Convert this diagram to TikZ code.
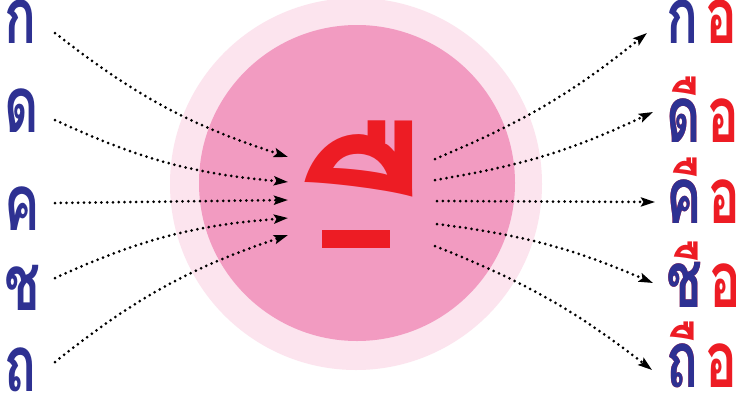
\documentclass[tikz,border=0pt]{standalone}
\usepackage{fontspec}
\usetikzlibrary{arrows.meta}
\newfontfamily\thaifont[Script=Thai,FakeStretch=0.68]{Loma}
\newfontfamily\thaivowel[Script=Thai,FakeStretch=0.76]{Loma}
\definecolor{blueT}{HTML}{2E3192}
\definecolor{redT}{HTML}{ED1C24}
\definecolor{pinkIn}{HTML}{F29BC1}
\definecolor{pinkOut}{HTML}{FCE4EE}
\tikzset{
  cons/.style={inner sep=0pt, anchor=base west, text=blueT, font=\thaifont\bfseries\fontsize{78}{78}\selectfont},
  word/.style={inner sep=0pt, anchor=base west, font=\thaifont\bfseries\fontsize{78}{78}\selectfont},
  dots/.style={line width=3pt, dash pattern=on 0pt off 5.8pt, line cap=round,
    -{Stealth[length=14pt,width=9pt,inset=2.5pt]}}
}
\newcommand{\twotone}[2]{\rlap{\color{redT}#1#2}{\color{blueT}#1}\hspace{7pt}{\color{redT}อ}}
\begin{document}
\begin{tikzpicture}[x=1pt,y=-1pt]
\useasboundingbox (0,0) rectangle (736,400);
\fill[white] (0,0) rectangle (736,400);
% circles
\fill[pinkOut] (356,184) circle (186);
\fill[pinkIn] (357,183) circle (158);
% centre vowel
\node[inner sep=0pt, text=redT, font=\thaivowel\fontsize{316}{316}\selectfont, anchor=base] (vowel) at (434,386) {ื};
\fill[redT] (322,230) rectangle (390,248);
% left consonants
\node[cons] (l1) at (4,43) {ก};
\node[cons] (l2) at (4,132) {ด};
\node[cons] (l3) at (4,230) {ค};
\node[cons] (l4) at (4,310) {ช};
\node[cons] (l5) at (4,391) {ถ};
% right words
\node[word] (r1) at (666,43) {{\color{blueT}ก}\hspace{7pt}{\color{redT}อ}};
\node[word] (r2) at (666,142) {\twotone{ด}{ื}};
\node[word] (r3) at (666,223) {\twotone{ค}{ื}};
\node[word] (r4) at (666,307) {\twotone{ช}{ื}};
\node[word] (r5) at (666,387) {\twotone{ถ}{ื}};
% connector points
\coordinate (a1) at (55,33);  \coordinate (b1) at (288,157);
\coordinate (a2) at (55,120); \coordinate (b2) at (288,182);
\coordinate (a3) at (55,203); \coordinate (b3) at (288,200);
\coordinate (a4) at (55,278); \coordinate (b4) at (288,218);
\coordinate (a5) at (55,362); \coordinate (b5) at (288,235);
\coordinate (c1) at (435,159); \coordinate (d1) at (647,33);
\coordinate (c2) at (435,180); \coordinate (d2) at (653,112);
\coordinate (c3) at (437,201); \coordinate (d3) at (655,202);
\coordinate (c4) at (437,224); \coordinate (d4) at (653,283);
\coordinate (c5) at (435,246); \coordinate (d5) at (652,370);
\draw[dots] (a1) to[bend right=10] (b1);
\draw[dots] (a2) to[bend right=10] (b2);
\draw[dots] (a3) -- (b3);
\draw[dots] (a4) to[bend left=10] (b4);
\draw[dots] (a5) to[bend left=10] (b5);
\draw[dots] (c1) to[bend right=8] (d1);
\draw[dots] (c2) to[bend right=8] (d2);
\draw[dots] (c3) -- (d3);
\draw[dots] (c4) to[bend left=8] (d4);
\draw[dots] (c5) to[bend left=8] (d5);
\end{tikzpicture}
\end{document}
